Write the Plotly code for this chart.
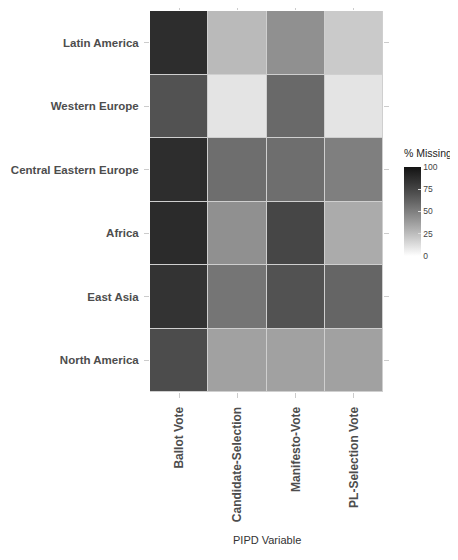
import plotly.graph_objects as go

variables = ["Ballot Vote", "Candidate-Selection", "Manifesto-Vote", "PL-Selection Vote"]
regions = ["Latin America", "Western Europe", "Central Eastern Europe",
           "Africa", "East Asia", "North America"]

# % missing, one list per region (columns follow `variables`)
latin_america = [87, 26, 43, 20]
western_europe = [69, 10, 59, 10]
central_eastern_europe = [87, 57, 57, 50]
africa = [88, 43, 75, 32]
east_asia = [84, 54, 69, 61]
north_america = [72, 36, 36, 36]

z = [latin_america, western_europe, central_eastern_europe,
     africa, east_asia, north_america]

cbar_ticks = [0, 25, 50, 75, 100]


# grey colour scale interpolated in CIE L* (white -> near black)
def grey_from_L(L):
    fy = (L + 16) / 116
    Y = fy ** 3 if L > 8 else L / 903.3
    s = 12.92 * Y if Y <= 0.0031308 else 1.055 * Y ** (1 / 2.4) - 0.055
    g = max(0, min(255, round(s * 255)))
    return f"rgb({g},{g},{g})"


L_low, L_high = 100, 6
colorscale = [[i / 10, grey_from_L(L_low + (L_high - L_low) * i / 10)] for i in range(11)]

fig = go.Figure(go.Heatmap(
    z=z, x=variables, y=regions,
    zmin=0, zmax=100,
    colorscale=colorscale,
    xgap=1, ygap=1,
    colorbar=dict(
        tickvals=cbar_ticks,
        ticks="inside", ticklen=3, tickcolor="#dddddd",
        tickfont=dict(size=8.5, color="#444"),
        thickness=17, thicknessmode="pixels",
        len=89, lenmode="pixels",
        x=1.09, xanchor="left", xpad=0,
        y=0.474, yanchor="middle", ypad=0,
        outlinewidth=0,
    ),
))

fig.update_layout(
    width=450, height=552,
    margin=dict(l=142, r=75, t=3, b=168),
    paper_bgcolor="white",
    plot_bgcolor="#cfcfcf",
    font=dict(family="Liberation Sans, Arial, sans-serif", color="#4d4d4d"),
    annotations=[
        dict(text="PIPD Variable", xref="paper", yref="paper",
             x=0.5, y=-0.409, showarrow=False,
             font=dict(size=11, color="#333")),
        dict(text="% Missing", xref="paper", yref="paper",
             x=1.09, y=0.628, xanchor="left", yanchor="middle", showarrow=False,
             xshift=-1, borderpad=0,
             font=dict(size=10.5, color="#222")),
    ],
)
fig.update_xaxes(
    showgrid=False, zeroline=False,
    ticks="outside", ticklen=5, tickcolor="#cccccc", mirror="ticks",
    tickangle=-90, ticklabelstandoff=4,
    tickfont=dict(size=12, color="#4d4d4d", family="Liberation Sans, Arial, sans-serif", weight="bold"),
)
fig.update_yaxes(
    showgrid=False, zeroline=False, autorange="reversed",
    ticks="outside", ticklen=5, tickcolor="#cccccc", mirror="ticks",
    ticklabelstandoff=3,
    tickfont=dict(size=11.5, color="#4d4d4d", family="Liberation Sans, Arial, sans-serif", weight="bold"),
)

fig.write_html("out.html")
